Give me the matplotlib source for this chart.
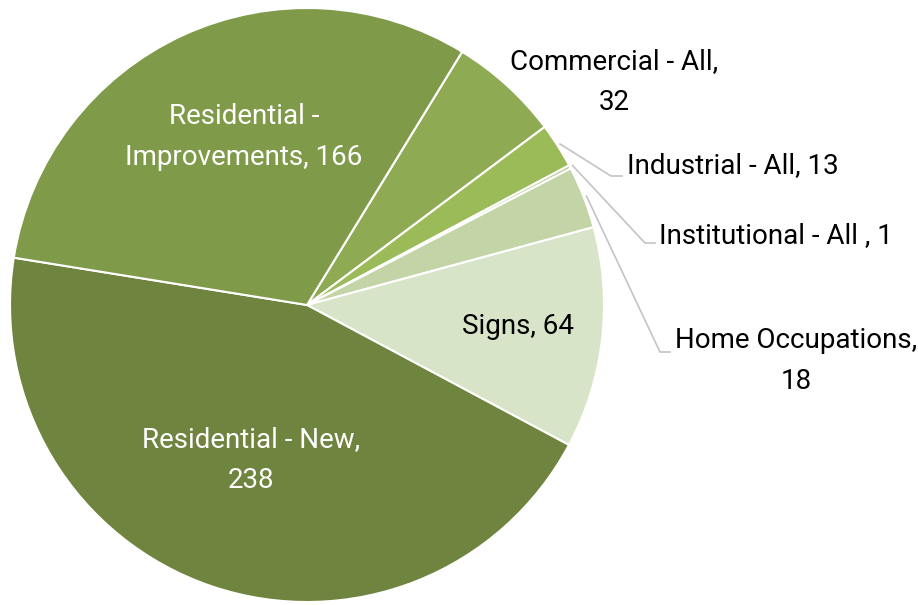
import numpy as np
import matplotlib.pyplot as plt

plt.rcParams['font.family'] = ['Roboto', 'DejaVu Sans']

categories = ['Commercial - All', 'Industrial - All', 'Institutional - All ',
              'Home Occupations', 'Signs', 'Residential - New',
              'Residential - Improvements']
values = [32, 13, 1, 18, 64, 238, 166]
colors = ['#8eaa52', '#9bbb59', '#b4c98a', '#c3d4a6', '#d8e4c7', '#6f843e', '#7f9a49']

W, H = 918, 605
cx, cy, R = 307, 305, 297

fig = plt.figure(figsize=(W / 100, H / 100), dpi=100)
ax = fig.add_axes([(cx - R) / W, (H - cy - R) / H, 2 * R / W, 2 * R / H])

wedges, _ = ax.pie(values, colors=colors, startangle=58.5, counterclock=False,
                   radius=1, wedgeprops=dict(edgecolor='white', linewidth=1.5))
ax.set_xlim(-1, 1)
ax.set_ylim(-1, 1)
ax.axis('off')


def px(x, y):
    # pixel position -> data coords of the pie axes
    return (x - cx) / R, (cy - y) / R


fs = 20
ls = 1.68
lab = {c: f'{c}, {v}' for c, v in zip(categories, values)}

# labels inside the slices
ax.text(*px(244, 137), 'Residential -\nImprovements, 166', color='white',
        fontsize=fs, ha='center', va='center', linespacing=ls)
ax.text(*px(251, 460), 'Residential - New,\n238', color='white',
        fontsize=fs, ha='center', va='center', linespacing=ls)
ax.text(*px(518, 327), lab['Signs'], color='black',
        fontsize=fs, ha='center', va='center')

# labels outside
ax.text(*px(614, 82), 'Commercial - All,\n32', fontsize=fs, ha='center',
        va='center', linespacing=ls)

outside = [
    (1, (611, 176), (622, 176), (627, 166), lab['Industrial - All'], 'left'),
    (2, (645, 243), (655, 243), (659, 236), lab['Institutional - All '], 'left'),
    (3, (660, 352), (670, 352), (796, 361), 'Home Occupations,\n18', 'center'),
]
for i, elbow, end, pos, txt, ha in outside:
    w = wedges[i]
    mid = np.deg2rad((w.theta1 + w.theta2) / 2)
    x0, y0 = 1.01 * np.cos(mid), 1.01 * np.sin(mid)
    ex, ey = px(*elbow)
    fx, fy = px(*end)
    ax.plot([x0, ex, fx], [y0, ey, fy], color='#c4c4c4', lw=1.2, clip_on=False)
    ax.text(*px(*pos), txt, fontsize=fs, ha=ha, va='center', linespacing=ls)

fig.savefig('out.png', dpi=100)
